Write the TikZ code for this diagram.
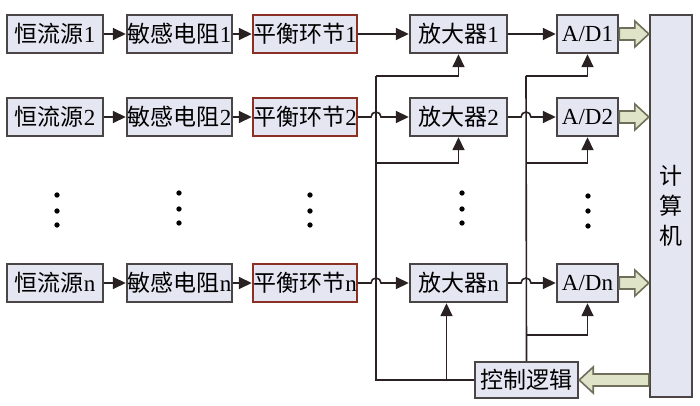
\documentclass[tikz,border=0pt]{standalone}
\usepackage{fontspec}
\setmainfont{Liberation Serif}
\newfontfamily\cjk{Noto Sans CJK SC}
\usetikzlibrary{arrows.meta,calc}

\definecolor{boxfill}{HTML}{E4E6F2}
\definecolor{boxline}{HTML}{4B4545}
\definecolor{balline}{HTML}{8C2F25}
\definecolor{fatfill}{HTML}{DFE3C8}
\definecolor{fatline}{HTML}{6E6E5A}
\definecolor{wire}{HTML}{2A2222}

\tikzset{
  block/.style={draw=boxline, fill=boxfill, line width=1.2pt, inner sep=0pt,
    minimum height=19pt, font=\fontsize{11.5}{13}\selectfont},
  balblock/.style={block, draw=balline},
  wireline/.style={draw=wire, line width=0.8pt},
  feed/.style={wireline, -{Triangle[length=6.5pt,width=6pt]}},
  fatbody/.style={draw=fatline, fill=fatfill, line width=0.8pt, line join=miter},
}

% wide hollow arrow between two points at the same height
\newcommand{\fatarrow}[2]{%
  \filldraw[fatbody] let \p1=(#1), \p2=(#2), \n1={sign(\x2-\x1)} in
    (\x1,\y1+3pt) -- ({\x2-(\n1)*7pt},\y1+3pt) -- ({\x2-(\n1)*7pt},\y1+6.5pt)
    -- (\x2,\y1) -- ({\x2-(\n1)*7pt},\y1-6.5pt) -- ({\x2-(\n1)*7pt},\y1-3pt)
    -- (\x1,\y1-3pt) -- cycle;}

\begin{document}
\begin{tikzpicture}[x=0.5pt,y=-0.5pt]
  \useasboundingbox (0,0) rectangle (700,406);

  % row 1
  \node[block, minimum width=48pt]   (src1) at (55,34)    {{\cjk 恒流源}1};
  \node[block, minimum width=52.5pt] (res1) at (179.5,34) {{\cjk 敏感电阻}1};
  \node[balblock, minimum width=52pt] (bal1) at (305,34)  {{\cjk 平衡环节}1};
  \node[block, minimum width=48.5pt] (amp1) at (458.5,34) {{\cjk 放大器}1};
  \node[block, minimum width=30.5pt] (ad1)  at (587.5,34) {A/D1};

  % row 2
  \node[block, minimum width=48pt]   (src2) at (55,117)    {{\cjk 恒流源}2};
  \node[block, minimum width=52.5pt] (res2) at (179.5,117) {{\cjk 敏感电阻}2};
  \node[balblock, minimum width=52pt] (bal2) at (305,117)  {{\cjk 平衡环节}2};
  \node[block, minimum width=48.5pt] (amp2) at (458.5,117) {{\cjk 放大器}2};
  \node[block, minimum width=30.5pt] (ad2)  at (587.5,117) {A/D2};

  % row n
  \node[block, minimum width=48pt]   (srcn) at (55,283)    {{\cjk 恒流源}n};
  \node[block, minimum width=52.5pt] (resn) at (179.5,283) {{\cjk 敏感电阻}n};
  \node[balblock, minimum width=52pt] (baln) at (305,283)  {{\cjk 平衡环节}n};
  \node[block, minimum width=48.5pt] (ampn) at (458.5,283) {{\cjk 放大器}n};
  \node[block, minimum width=30.5pt] (adn)  at (587.5,283) {A/Dn};

  \node[block, minimum width=21pt, minimum height=191pt, align=center,
        font=\fontsize{11.5}{15}\selectfont\cjk] (cpu) at (671,206) {计\\算\\机};
  \node[block, minimum width=51.5pt, minimum height=18pt,
        font=\fontsize{11.5}{13}\selectfont\cjk] (ctrl) at (526.5,380) {控制逻辑};

  % dots
  \filldraw[black] (57,195) circle (1.1pt);
  \filldraw[black] (57,211) circle (1.1pt);
  \filldraw[black] (57,225) circle (1.1pt);
  \filldraw[black] (179,193) circle (1.1pt);
  \filldraw[black] (179,209) circle (1.1pt);
  \filldraw[black] (179,223) circle (1.1pt);
  \filldraw[black] (310,195) circle (1.1pt);
  \filldraw[black] (310,211) circle (1.1pt);
  \filldraw[black] (310,225) circle (1.1pt);
  \filldraw[black] (462,193) circle (1.1pt);
  \filldraw[black] (462,209) circle (1.1pt);
  \filldraw[black] (462,223) circle (1.1pt);
  \filldraw[black] (588,196) circle (1.1pt);
  \filldraw[black] (588,211) circle (1.1pt);
  \filldraw[black] (588,226) circle (1.1pt);

  % control buses
  \coordinate (busA) at (376,76);
  \coordinate (busB) at (526,76);
  \coordinate (ampnin) at ([xshift=-6pt]ampn.south);

  % signal chains
  \draw[feed] (src1) -- (res1);
  \draw[feed] (res1) -- (bal1);
  \draw[feed] (bal1) -- (amp1);
  \draw[feed] (amp1) -- (ad1);
  \draw[feed] (src2) -- (res2);
  \draw[feed] (res2) -- (bal2);
  \draw[feed] (bal2.east) -- ($(bal2.east -| busA)+(-2.5pt,0)$)
    arc[start angle=180, end angle=0, radius=2.5pt] -- (amp2.west);
  \draw[feed] (amp2.east) -- ($(amp2.east -| busB)+(-2.5pt,0)$)
    arc[start angle=180, end angle=0, radius=2.5pt] -- (ad2.west);
  \draw[feed] (srcn) -- (resn);
  \draw[feed] (resn) -- (baln);
  \draw[feed] (baln.east) -- ($(baln.east -| busA)+(-2.5pt,0)$)
    arc[start angle=180, end angle=0, radius=2.5pt] -- (ampn.west);
  \draw[feed] (ampn.east) -- ($(ampn.east -| busB)+(-2.5pt,0)$)
    arc[start angle=180, end angle=0, radius=2.5pt] -- (adn.west);

  % bus to amplifiers
  \draw[wireline] (busA) -- (busA |- ctrl.west) -- (ctrl.west);
  \draw[feed] (busA) -| (amp1.south);
  \draw[feed] (376,163) -| (amp2.south);
  \draw[feed] (ampnin |- ctrl.west) -- (ampnin);

  % bus to converters
  \draw[wireline] (busB) -- (ctrl.north);
  \draw[feed] (busB) -| (ad1.south);
  \draw[feed] (526,163) -| (ad2.south);
  \draw[feed] (526,335) -| (adn.south);

  % data paths
  \fatarrow{ad1.east}{ad1.east -| cpu.west}
  \fatarrow{ad2.east}{ad2.east -| cpu.west}
  \fatarrow{adn.east}{adn.east -| cpu.west}
  \fatarrow{ctrl.east -| cpu.west}{ctrl.east}
\end{tikzpicture}
\end{document}
